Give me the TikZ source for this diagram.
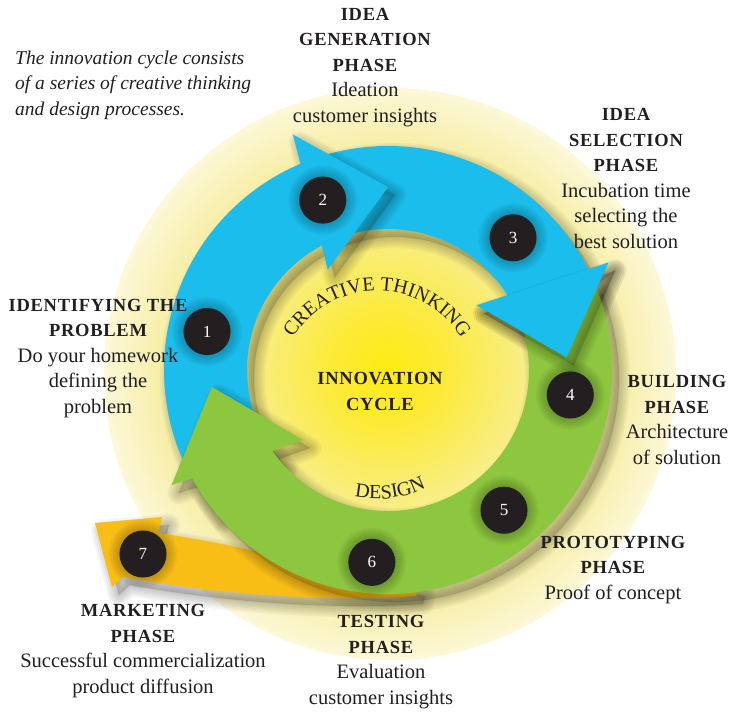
\documentclass[tikz,border=0pt]{standalone}
\usepackage{fontspec}
\setmainfont{Liberation Serif}
\newfontfamily\capsfont[LetterSpace=4.0]{Liberation Serif}
\usetikzlibrary{decorations.text,positioning}
\definecolor{ink}{HTML}{231F20}
\definecolor{cyanarr}{HTML}{1ABDEB}
\definecolor{greenarr}{HTML}{8DC63F}
\definecolor{gold}{HTML}{F9BE16}
\definecolor{paleA}{HTML}{F5EC9C}
\definecolor{paleB}{HTML}{FDF8D8}
\definecolor{coreA}{HTML}{FFEB12}
\definecolor{coreB}{HTML}{FCEA3A}
\definecolor{coreC}{HTML}{F8EE8E}
\pgfdeclareradialshading{halo}{\pgfpoint{0bp}{0bp}}{color(0bp)=(paleA); color(19bp)=(paleA); color(25bp)=(paleB); color(50bp)=(paleB)}
\pgfdeclareradialshading{core}{\pgfpoint{0bp}{0bp}}{color(0bp)=(coreA); color(10bp)=(coreB); color(25bp)=(coreC); color(50bp)=(coreC)}
\newcommand{\phasehead}[1]{{\capsfont\bfseries\fontsize{18.5}{25.5}\selectfont #1}}
\newcommand{\arcfont}{\fontsize{20}{20}\selectfont}
% soft drop shadow: stacked strokes of falling width
\newcommand{\dropshade}[1]{%
  \foreach \w in {22,18,14,10,6,2}
    \draw[black,opacity=0.04,line width=\w pt,line join=round,xshift=7pt,yshift=-8pt] #1;
  \fill[black,opacity=0.15,xshift=7pt,yshift=-8pt] #1;}
% ring pieces, polar about the centre of the cycle
\newcommand{\goldpath}{(-293,-153) -- (-226,-147) -- (-230,-163)
    .. controls (-180,-170) and (-110,-185) .. (-40,-205) -- (30,-218) -- (28,-226)
    .. controls (-40,-231) and (-150,-228) .. (-265,-207) -- (-276,-217) -- cycle}
\newcommand{\bluetwo}{(112:224) arc[start angle=112,end angle=26,radius=224]
    -- (26:245) -- (4:179) -- (36:110) -- (32:141)
    arc[start angle=32,end angle=112,radius=141] -- cycle}
\newcommand{\blueone}{(220:224) arc[start angle=220,end angle=113,radius=224]
    -- (112:254) -- (90:183) -- (121:117) -- (118:141)
    arc[start angle=118,end angle=220,radius=141] -- cycle}
\newcommand{\greenpath}{(22:224) arc[start angle=22,end angle=-151,radius=224]
    -- (-152:245) -- (-174.5:177) -- (-140.5:110) -- (-145:141)
    arc[start angle=-145,end angle=22,radius=141] -- cycle}
\newcommand{\bluehead}{(26:245) -- (4:179) -- (36:110) -- cycle}
\tikzset{
  stage/.style={circle,fill=ink,minimum size=47pt,inner sep=0pt,text=white,
    font=\fontsize{17}{17}\selectfont},
  phase/.style={align=center,anchor=base,inner sep=0pt,text=ink,font=\fontsize{20.5}{25.5}\selectfont},
  note/.style={align=left,anchor=base west,inner sep=0pt,text=ink,font=\itshape\fontsize{19.5}{25}\selectfont},
  arclbl/.style={decorate,decoration={text along path,text align=center,text color=ink,text={|\arcfont|#1}}},
}

\begin{document}
\begin{tikzpicture}[x=1pt,y=1pt]
  \fill[white] (-388,-343) rectangle (346,370);
  \useasboundingbox (-388,-343) rectangle (346,370);
  % halo and core discs
  \shade[shading=halo] (2,-4) circle[radius=286];
  \shade[shading=core] (0,0) circle[radius=145];
  % marketing arrow, under the ring
  \dropshade{\goldpath}
  \fill[gold] \goldpath;
  % blue arrow, second part (head at stage 4)
  \dropshade{\bluetwo}
  \fill[cyanarr] \bluetwo;
  % blue arrow, first part (head at stage 2)
  \dropshade{\blueone}
  \fill[cyanarr] \blueone;
  % green arrow
  \dropshade{\greenpath}
  \fill[greenarr] \greenpath;
  % blue head again, on top of the green start
  \dropshade{\bluehead}
  \fill[cyanarr] \bluehead;

  \coordinate (c1) at (168:185);
  \coordinate (c2) at (111:182);
  \coordinate (c3) at (46.6:182);
  \coordinate (c4) at (-7.8:184);
  \coordinate (c5) at (-50.4:182);
  \coordinate (c6) at (-94.8:193);
  \coordinate (c7) at (-245,-184);
  \foreach \i in {1,...,7} {
    \dropshade{(c\i) circle[radius=23.5]}
    \node[stage] (s\i) at (c\i) {\i};
  }

  \path[arclbl={CREATIVE THINKING}] (-11,-20) ++(153:99) arc[start angle=153,end angle=27,radius=99];
  \path[arclbl={DESIGN}] (-11,-20) ++(-112:109) arc[start angle=-112,end angle=-53,radius=109];

  % nodes sit on the baseline of their last line
  \node[phase] (hub) at (-8,-40) {\phasehead{INNOVATION}\\\phasehead{CYCLE}};
  \node[note] (intro) at (-373,255) {The innovation cycle consists\\of a series of creative thinking\\and design processes.};
  \node[phase] (ideagen) at (-23,248) {\phasehead{IDEA}\\\phasehead{GENERATION}\\\phasehead{PHASE}\\Ideation\\customer insights};
  \node[phase] (ideasel) at (238,122) {\phasehead{IDEA}\\\phasehead{SELECTION}\\\phasehead{PHASE}\\Incubation time\\selecting the\\best solution};
  \node[phase] (ident) at (-290,-43) {\phasehead{IDENTIFYING THE}\\\phasehead{PROBLEM}\\Do your homework\\defining the\\problem};
  \node[phase] (build) at (289,-94) {\phasehead{BUILDING}\\\phasehead{PHASE}\\Architecture\\of solution};
  \node[phase] (proto) at (225,-229) {\phasehead{PROTOTYPING}\\\phasehead{PHASE}\\Proof of concept};
  \node[phase] (testing) at (-7,-334) {\phasehead{TESTING}\\\phasehead{PHASE}\\Evaluation\\customer insights};
  \node[phase] (market) at (-245,-323) {\phasehead{MARKETING}\\\phasehead{PHASE}\\Successful commercialization\\product diffusion};
\end{tikzpicture}
\end{document}
